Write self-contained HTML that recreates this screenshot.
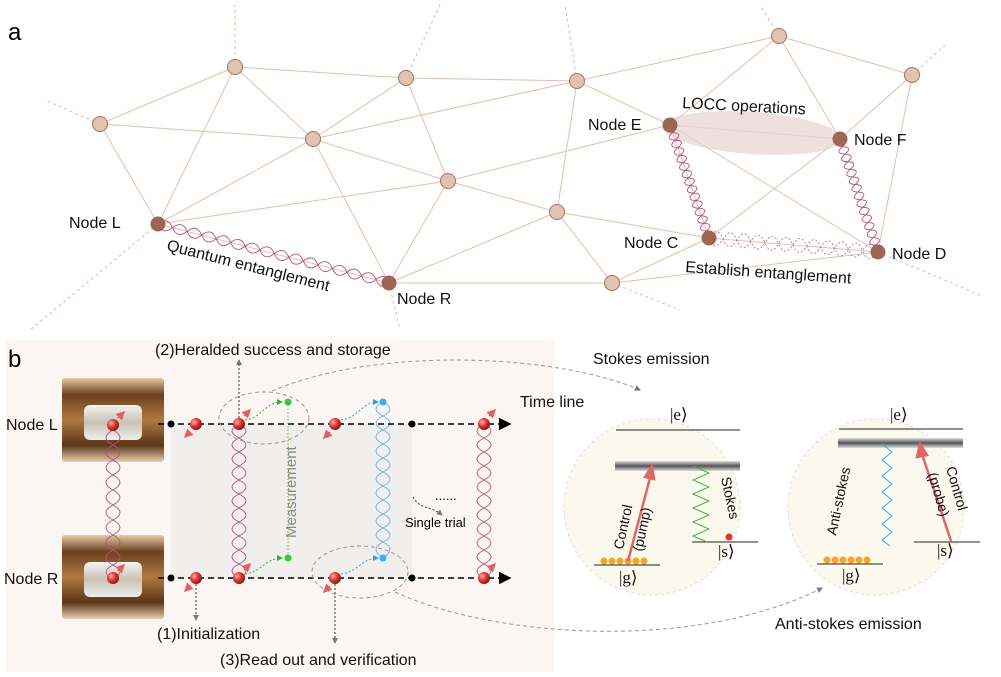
<!DOCTYPE html>
<html><head><meta charset="utf-8"><style>
html,body{margin:0;padding:0;background:#fff}
svg{display:block;font-family:"Liberation Sans",sans-serif}
</style></head><body>
<svg width="1001" height="677" viewBox="0 0 1001 677" xmlns="http://www.w3.org/2000/svg">
<defs>
<linearGradient id="cav" x1="0" y1="0" x2="0" y2="1">
<stop offset="0" stop-color="#e9c9a0"/><stop offset="0.2" stop-color="#6b4020"/><stop offset="0.5" stop-color="#b07a40"/><stop offset="0.8" stop-color="#5a3518"/><stop offset="1" stop-color="#e8cfb0"/>
</linearGradient>
<linearGradient id="glass" x1="0" y1="0" x2="0" y2="1">
<stop offset="0" stop-color="#f4f4f4"/><stop offset="0.5" stop-color="#c9c2b4"/><stop offset="1" stop-color="#eee"/>
</linearGradient>
<linearGradient id="bar" x1="0" y1="0" x2="0" y2="1">
<stop offset="0" stop-color="#ddd"/><stop offset="0.5" stop-color="#555"/><stop offset="1" stop-color="#ddd"/>
</linearGradient>
<radialGradient id="ball" cx="0.35" cy="0.35" r="0.7"><stop offset="0" stop-color="#ffb0b0"/><stop offset="0.5" stop-color="#e03535"/><stop offset="1" stop-color="#8a1010"/></radialGradient>
<marker id="ar" markerWidth="8" markerHeight="8" refX="7" refY="4" orient="auto"><path d="M0,0 L8,4 L0,8 z" fill="#000"/></marker>
<marker id="ag" markerWidth="6" markerHeight="6" refX="5" refY="3" orient="auto"><path d="M0,0 L6,3 L0,6 z" fill="#777"/></marker>
<marker id="agr" markerWidth="6" markerHeight="6" refX="5" refY="3" orient="auto"><path d="M0,0 L6,3 L0,6 z" fill="#2db52d"/></marker>
<marker id="abl" markerWidth="6" markerHeight="6" refX="5" refY="3" orient="auto"><path d="M0,0 L6,3 L0,6 z" fill="#2aa0e0"/></marker>
<marker id="arr" markerWidth="6" markerHeight="6" refX="5" refY="3" orient="auto"><path d="M0,0 L6,3 L0,6 z" fill="#e06060"/></marker>
</defs>

<!-- panel a -->
<text x="8" y="40" font-size="24">a</text>
<g stroke="#e3b8a4" stroke-width="1" stroke-dasharray="3,3" fill="none">
<path d="M235,67 L235,5 M406,78 L440,5 M577,81 L565,5 M100,124 L45,100 M158,224 L30,330 M389,283 L400,330 M779,36 L760,5 M912,75 L945,45 M878,252 L980,295 M612,283 L680,310"/>
</g>
<g stroke="#e0c0b0" stroke-width="1" fill="none">
<path d="M100,124L235,67 M235,67L406,78 M406,78L577,81 M577,81L779,36 M779,36L912,75 M100,124L313,139 M235,67L313,139 M235,67L158,224 M100,124L158,224 M313,139L406,78 M313,139L577,81 M313,139L448,181 M313,139L158,224 M313,139L389,283 M158,224L448,181 M158,224L389,283 M406,78L448,181 M448,181L670,125 M448,181L557,212 M389,283L448,181 M389,283L557,212 M389,283L612,283 M557,212L577,81 M577,81L670,125 M557,212L709,238 M557,212L612,283 M612,283L709,238 M612,283L878,252 M670,125L779,36 M779,36L840,139 M840,139L912,75 M912,75L878,252 M670,125L709,238 M670,125L840,139 M670,125L878,252 M840,139L709,238 M709,238L878,252 M670,125L577,81"/>
</g>
<ellipse cx="752" cy="133" rx="90" ry="21" transform="rotate(4 752 133)" fill="#e6d3d0" opacity="0.7"/>
<g fill="#dfc3b3" stroke="#a9705c" stroke-width="1">
<circle cx="235" cy="67" r="7.5"/><circle cx="100" cy="124" r="7.5"/><circle cx="313" cy="139" r="7.5"/><circle cx="406" cy="78" r="7.5"/><circle cx="577" cy="81" r="7.5"/><circle cx="448" cy="181" r="7.5"/><circle cx="557" cy="212" r="7.5"/><circle cx="612" cy="283" r="7.5"/><circle cx="779" cy="36" r="7.5"/><circle cx="912" cy="75" r="7.5"/>
</g>
<g fill="none" stroke="#b5527a" stroke-width="0.9">
<g transform="translate(158,224) rotate(14.3)">
<path d="M0,0 Q7.5,-10 15,0 T30,0 T45,0 T60,0 T75,0 T90,0 T105,0 T120,0 T135,0 T150,0 T165,0 T180,0 T195,0 T210,0 T225,0 T238,0"/>
<path d="M0,0 Q7.5,10 15,0 T30,0 T45,0 T60,0 T75,0 T90,0 T105,0 T120,0 T135,0 T150,0 T165,0 T180,0 T195,0 T210,0 T225,0 T238,0"/>
</g>
<g transform="translate(670,125) rotate(71)">
<path d="M0,0 Q4,-10 8,0 T16,0 T24,0 T32,0 T40,0 T48,0 T56,0 T64,0 T72,0 T80,0 T88,0 T96,0 T104,0 T112,0 T120,0"/>
<path d="M0,0 Q4,10 8,0 T16,0 T24,0 T32,0 T40,0 T48,0 T56,0 T64,0 T72,0 T80,0 T88,0 T96,0 T104,0 T112,0 T120,0"/>
</g>
<g transform="translate(840,139) rotate(71.4)">
<path d="M0,0 Q4,-10 8,0 T16,0 T24,0 T32,0 T40,0 T48,0 T56,0 T64,0 T72,0 T80,0 T88,0 T96,0 T104,0 T112,0 T120,0"/>
<path d="M0,0 Q4,10 8,0 T16,0 T24,0 T32,0 T40,0 T48,0 T56,0 T64,0 T72,0 T80,0 T88,0 T96,0 T104,0 T112,0 T120,0"/>
</g>
<g transform="translate(709,238) rotate(4.7)" stroke="#c46a90" stroke-dasharray="2,2">
<path d="M0,0 Q7,-14 14,0 T28,0 T42,0 T56,0 T70,0 T84,0 T98,0 T112,0 T126,0 T140,0 T154,0 T170,0"/>
<path d="M0,0 Q7,14 14,0 T28,0 T42,0 T56,0 T70,0 T84,0 T98,0 T112,0 T126,0 T140,0 T154,0 T170,0"/>
</g>
</g>
<g fill="#9c6554">
<circle cx="158" cy="224" r="7.5"/><circle cx="389" cy="283" r="7.5"/><circle cx="670" cy="125" r="7.5"/><circle cx="840" cy="139" r="7.5"/><circle cx="709" cy="238" r="7.5"/><circle cx="878" cy="252" r="7.5"/>
</g>
<g font-size="16" fill="#111">
<text x="69" y="228">Node L</text>
<text x="397" y="304">Node R</text>
<text x="588" y="130">Node E</text>
<text x="854" y="145">Node F</text>
<text x="624" y="248">Node C</text>
<text x="892" y="259">Node D</text>
<text x="682" y="108" transform="rotate(3 682 108)">LOCC operations</text>
<text x="685" y="272" transform="rotate(4 685 272)">Establish entanglement</text>
<text x="166" y="250" transform="rotate(14.3 166 250)">Quantum entanglement</text>
</g>

<!-- panel b -->
<rect x="6" y="340" width="548" height="332" fill="#fbf6f4"/>
<text x="8" y="367" font-size="24">b</text>
<rect x="171" y="424" width="241" height="154" fill="#f0efed"/>
<!-- cavities -->
<g>
<rect x="62" y="378" width="102" height="84" fill="url(#cav)" rx="3"/>
<rect x="84" y="405" width="58" height="35" fill="url(#glass)" rx="6"/>
<rect x="62" y="535" width="102" height="84" fill="url(#cav)" rx="3"/>
<rect x="84" y="562" width="58" height="35" fill="url(#glass)" rx="6"/>
</g>
<g fill="none" stroke="#b5527a" stroke-width="0.9">
<g transform="translate(113,430) rotate(90)">
<path d="M0,0 Q7.5,-14 15,0 T30,0 T45,0 T60,0 T75,0 T90,0 T105,0 T120,0 T135,0 T148,0"/>
<path d="M0,0 Q7.5,14 15,0 T30,0 T45,0 T60,0 T75,0 T90,0 T105,0 T120,0 T135,0 T148,0"/>
</g>
<g transform="translate(239,424) rotate(90)">
<path d="M0,0 Q7,-14 14,0 T28,0 T42,0 T56,0 T70,0 T84,0 T98,0 T112,0 T126,0 T140,0 T154,0"/>
<path d="M0,0 Q7,14 14,0 T28,0 T42,0 T56,0 T70,0 T84,0 T98,0 T112,0 T126,0 T140,0 T154,0"/>
</g>
<g transform="translate(484,424) rotate(90)">
<path d="M0,0 Q7,-14 14,0 T28,0 T42,0 T56,0 T70,0 T84,0 T98,0 T112,0 T126,0 T140,0 T154,0"/>
<path d="M0,0 Q7,14 14,0 T28,0 T42,0 T56,0 T70,0 T84,0 T98,0 T112,0 T126,0 T140,0 T154,0"/>
</g>
<g transform="translate(383,402) rotate(90)" stroke="#5ab4e6">
<path d="M0,0 Q7,-14 14,0 T28,0 T42,0 T56,0 T70,0 T84,0 T98,0 T112,0 T126,0 T140,0 T156,0"/>
<path d="M0,0 Q7,14 14,0 T28,0 T42,0 T56,0 T70,0 T84,0 T98,0 T112,0 T126,0 T140,0 T156,0"/>
</g>
</g>
<g stroke="#000" stroke-width="1.6" stroke-dasharray="6,4" fill="none">
<line x1="158" y1="424" x2="510" y2="424" marker-end="url(#ar)"/>
<line x1="158" y1="578" x2="510" y2="578" marker-end="url(#ar)"/>
</g>
<g fill="#000"><circle cx="171" cy="424" r="3.5"/><circle cx="412" cy="424" r="3.5"/><circle cx="171" cy="578" r="3.5"/><circle cx="412" cy="578" r="3.5"/></g>
<g fill="url(#ball)">
<circle cx="113" cy="425" r="6"/><circle cx="113" cy="578" r="6"/><circle cx="196" cy="424" r="6"/><circle cx="196" cy="578" r="6"/><circle cx="239" cy="424" r="6"/><circle cx="239" cy="578" r="6"/><circle cx="335" cy="424" r="6"/><circle cx="335" cy="578" r="6"/><circle cx="484" cy="424" r="6"/><circle cx="484" cy="578" r="6"/>
</g>
<g stroke="#e06060" stroke-width="1.5">
<line x1="190" y1="432" x2="185" y2="437" marker-end="url(#arr)"/><line x1="190" y1="586" x2="185" y2="591" marker-end="url(#arr)"/>
<line x1="244" y1="416" x2="250" y2="410" marker-end="url(#arr)"/><line x1="244" y1="570" x2="250" y2="564" marker-end="url(#arr)"/>
<line x1="330" y1="432" x2="324" y2="438" marker-end="url(#arr)"/><line x1="330" y1="586" x2="324" y2="592" marker-end="url(#arr)"/>
<line x1="489" y1="416" x2="495" y2="410" marker-end="url(#arr)"/><line x1="489" y1="570" x2="495" y2="564" marker-end="url(#arr)"/>
<line x1="118" y1="418" x2="124" y2="412" marker-end="url(#arr)"/><line x1="118" y1="571" x2="124" y2="565" marker-end="url(#arr)"/>
</g>
<g fill="#3fc43f"><circle cx="288" cy="402" r="3.5"/><circle cx="288" cy="558" r="3.5"/></g>
<g fill="#3aaef0"><circle cx="383" cy="402" r="3.5"/><circle cx="383" cy="558" r="3.5"/></g>
<line x1="288" y1="405" x2="288" y2="555" stroke="#3fc43f" stroke-dasharray="1.5,2"/>
<g fill="none" stroke-width="1" stroke-dasharray="2,2">
<path d="M245,420 C262,418 265,402 282,402" stroke="#2db52d" marker-end="url(#agr)"/>
<path d="M245,574 C262,572 265,558 282,558" stroke="#2db52d" marker-end="url(#agr)"/>
<path d="M341,420 C358,418 362,402 378,402" stroke="#2aa0e0" marker-end="url(#abl)"/>
<path d="M341,574 C358,572 362,558 378,558" stroke="#2aa0e0" marker-end="url(#abl)"/>
</g>
<text x="0" y="0" font-size="15" fill="#888" transform="translate(296,538) rotate(-90)">Measurement</text>
<g fill="none" stroke="#999" stroke-dasharray="4,3">
<ellipse cx="264" cy="418" rx="45" ry="26"/>
<ellipse cx="360" cy="572" rx="48" ry="26"/>
<path d="M272,391 C380,345 560,355 640,390" marker-end="url(#ag)"/>
<path d="M395,592 C500,640 700,650 822,588" marker-end="url(#ag)"/>
</g>
<g stroke="#333" stroke-dasharray="2,2" fill="none" stroke-width="1">
<line x1="239" y1="418" x2="239" y2="360" marker-end="url(#ag)"/>
<line x1="196" y1="584" x2="196" y2="620" marker-end="url(#ag)"/>
<line x1="335" y1="584" x2="335" y2="643" marker-end="url(#ag)"/>
<path d="M413,497 C420,510 430,505 442,515" marker-end="url(#ag)"/>
</g>
<text x="435" y="500" font-size="13">......</text>
<g font-size="16" fill="#111">
<text x="6" y="430">Node L</text>
<text x="4" y="584">Node R</text>
<text x="155" y="355">(2)Heralded success and storage</text>
<text x="157" y="639">(1)Initialization</text>
<text x="220" y="665">(3)Read out and verification</text>
<text x="520" y="407">Time line</text>
<text x="593" y="364">Stokes emission</text>
<text x="775" y="629">Anti-stokes emission</text>
</g>
<text x="405" y="527" font-size="13">Single trial</text>

<!-- circles -->
<g fill="#fbf8ee" stroke="#ddd" stroke-dasharray="3,3">
<circle cx="652" cy="507" r="88"/>
<circle cx="876" cy="507" r="88"/>
</g>
<g font-family="Liberation Serif,serif" font-size="17" fill="#111">
<text x="670" y="420">|e⟩</text><text x="619" y="583">|g⟩</text><text x="718" y="557">|s⟩</text>
<text x="890" y="420">|e⟩</text><text x="842" y="581">|g⟩</text><text x="937" y="556">|s⟩</text>
</g>
<g stroke="#222" stroke-width="1">
<line x1="616" y1="430" x2="740" y2="430"/><line x1="594" y1="565" x2="660" y2="565"/><line x1="692" y1="542" x2="758" y2="542"/>
<line x1="839" y1="429" x2="963" y2="429"/><line x1="817" y1="564" x2="883" y2="564"/><line x1="914" y1="542" x2="980" y2="542"/>
</g>
<rect x="615" y="461" width="125" height="10" fill="url(#bar)"/>
<rect x="838" y="438" width="125" height="10" fill="url(#bar)"/>
<g fill="#f5a623"><circle cx="604" cy="561" r="3.5"/><circle cx="612" cy="561" r="3.5"/><circle cx="620" cy="561" r="3.5"/><circle cx="628" cy="561" r="3.5"/><circle cx="636" cy="561" r="3.5"/><circle cx="644" cy="561" r="3.5"/>
<circle cx="827" cy="560" r="3.5"/><circle cx="835" cy="560" r="3.5"/><circle cx="843" cy="560" r="3.5"/><circle cx="851" cy="560" r="3.5"/><circle cx="859" cy="560" r="3.5"/><circle cx="867" cy="560" r="3.5"/></g>
<g stroke="#e06666" stroke-width="2.5" fill="#e06666">
<line x1="628" y1="561" x2="650" y2="478"/><path d="M645,477 L652,466 L654,479 z"/>
<line x1="951" y1="541" x2="922" y2="454"/><path d="M917,457 L920,444 L927,455 z"/>
</g>
<path d="M693,466 l16,7 l-16,7 l16,7 l-16,7 l16,7 l-16,7 l16,7 l-16,7 l16,7 l-16,7 l14,6" fill="none" stroke="#3ab93a" stroke-width="1"/>
<circle cx="729" cy="537" r="3.5" fill="#d33"/>
<path d="M882,444 l10,8 l-10,8 l10,8 l-10,8 l10,8 l-10,8 l10,8 l-10,8 l10,8 l-10,8 l10,8 l-10,8 l8,6" fill="none" stroke="#3aaef0" stroke-width="1"/>
<g font-size="14" fill="#111">
<text transform="translate(623,550) rotate(-78)">Control</text>
<text transform="translate(642,552) rotate(-78)">(pump)</text>
<text transform="translate(721,478) rotate(78)">Stokes</text>
<text transform="translate(836,536) rotate(-78)">Anti-stokes</text>
<text transform="translate(946,468) rotate(74)">Control</text>
<text transform="translate(928,474) rotate(74)">(probe)</text>
</g>
</svg>
</body></html>
